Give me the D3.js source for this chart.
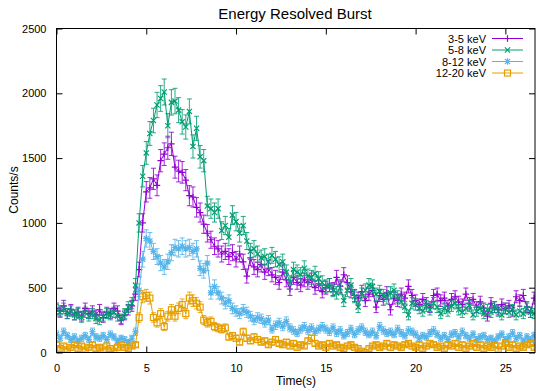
<!DOCTYPE html>
<html><head><meta charset="utf-8">
<script src="https://cdn.jsdelivr.net/npm/d3@7"></script>
<style>body{margin:0;background:#fff}svg{display:block;font-family:"Liberation Sans",Arial,sans-serif}</style>
</head><body><svg id="c" width="536" height="391"></svg>
<script>
const binWidth = 0.2;
const seriesNames = ["3-5 keV","5-8 keV","8-12 keV","12-20 keV"];
const xTicks = [0,5,10,15,20,25];
const yTicks = [0,500,1000,1500,2000,2500];

const band3to5 = [
340,320,360,300,330,290,310,280,340,300,
320,290,330,270,310,300,340,320,250,290,
330,360,450,640,1000,1240,1270,1340,1290,1480,
1530,1580,1610,1430,1400,1390,1330,1210,1200,1120,
1080,990,920,870,820,800,760,780,740,770,
720,760,700,590,730,660,640,680,620,650,
600,580,540,620,560,490,580,540,520,560,
540,560,500,530,470,500,520,490,580,510,
600,540,470,440,420,470,400,450,480,350,
440,410,460,330,420,400,450,420,510,440,
400,370,410,380,350,440,450,400,420,360,
410,430,390,370,450,380,410,350,390,340,
280,380,350,330,370,340,360,320,430,400,
440,350,310,420];
const band5to8 = [
330,310,340,300,320,290,300,270,310,280,
300,260,250,280,300,290,310,280,260,300,
350,380,520,1000,1360,1540,1690,1790,1910,1960,
2010,1750,1930,1940,1870,1780,1740,1860,1590,1730,
1510,1480,1130,1110,1080,1110,940,980,890,1060,
1010,920,980,860,780,800,760,730,740,700,
750,720,680,700,620,540,640,620,600,650,
590,580,610,570,540,510,520,480,460,500,
400,480,520,430,350,450,480,520,510,450,
470,440,420,460,480,430,390,350,290,380,
370,340,320,360,330,380,350,300,340,320,
360,380,330,310,340,360,290,320,340,300,
330,310,350,320,290,340,310,330,290,320,
300,340,310,300];
const band8to12 = [
140,110,160,130,100,120,90,110,130,100,
160,120,110,130,100,140,120,90,110,100,
80,110,160,480,720,880,860,780,740,690,
660,700,770,810,800,820,800,810,780,800,
650,630,690,460,510,460,420,380,400,340,
320,300,330,310,280,250,270,260,230,250,
180,210,230,200,240,190,170,150,180,200,
170,190,160,180,200,180,160,190,150,170,
130,150,180,140,170,190,160,140,160,130,
200,170,150,160,140,180,150,130,170,160,
140,110,130,120,150,170,140,110,130,100,
140,150,120,160,130,110,140,100,120,130,
100,110,90,120,140,100,120,150,110,130,
90,120,100,130];
const band12to20 = [
60,30,50,20,40,60,30,50,20,40,
60,30,40,20,50,30,10,40,60,40,
30,50,60,270,430,440,420,270,230,300,
200,280,330,280,340,370,300,420,400,380,
350,250,230,240,200,190,180,190,120,130,
110,80,160,110,90,120,100,80,90,60,
80,100,70,60,80,50,70,40,60,50,
90,110,70,50,60,40,70,50,60,40,
30,50,60,40,30,10,0,30,50,60,
40,50,70,40,60,50,40,60,70,50,
40,60,30,50,70,60,40,50,30,60,
50,70,40,60,30,50,70,40,60,30,
50,40,60,20,50,70,40,60,30,50,
40,60,70,40];

const colors = ["#9400d3","#009e73","#56b4e9","#e69f00"];
const allBands = [band3to5, band5to8, band8to12, band12to20];

const svg = d3.select("#c");
const L = 56.5, R = 535, T = 28.5, B = 352.5;
const x = d3.scaleLinear().domain([0, 26.65]).range([L, R]);
const y = d3.scaleLinear().domain([0, 2500]).range([B, T]);

svg.append("defs").append("clipPath").attr("id","clip")
  .append("rect").attr("x",L).attr("y",T).attr("width",R-L).attr("height",B-T);

// axes (gnuplot style: ticks inward, mirrored)
const tl = 6;
svg.append("g").attr("transform",`translate(0,${B})`)
  .call(d3.axisBottom(x).tickValues(xTicks).tickSize(-tl).tickPadding(tl+6).tickFormat(d3.format("d")))
  .call(g=>{g.select(".domain").remove();g.selectAll("text").attr("font-size",11).attr("fill","#000").style("font-family","Liberation Sans, Arial, sans-serif");});
svg.append("g").attr("transform",`translate(0,${T})`)
  .call(d3.axisTop(x).tickValues(xTicks).tickSize(-tl).tickFormat(""))
  .call(g=>g.select(".domain").remove());
svg.append("g").attr("transform",`translate(${L},0)`)
  .call(d3.axisLeft(y).tickValues(yTicks).tickSize(-tl).tickPadding(tl+4).tickFormat(d3.format("d")))
  .call(g=>{g.select(".domain").remove();g.selectAll("text").attr("font-size",11).attr("fill","#000").style("font-family","Liberation Sans, Arial, sans-serif");});
svg.append("g").attr("transform",`translate(${R},0)`)
  .call(d3.axisRight(y).tickValues(yTicks).tickSize(-tl).tickFormat(""))
  .call(g=>g.select(".domain").remove());
svg.selectAll(".tick line").attr("stroke","#000");

const plot = svg.append("g").attr("clip-path","url(#clip)");

function marker(g, k, cx, cy, col){
  const s = 3.2;
  if(k===0){
    g.append("path").attr("d",`M${cx-s},${cy}H${cx+s}M${cx},${cy-s}V${cy+s}`).attr("stroke",col).attr("stroke-width",1.2).attr("fill","none");
  } else if(k===1){
    const a=2.6;
    g.append("path").attr("d",`M${cx-a},${cy-a}L${cx+a},${cy+a}M${cx-a},${cy+a}L${cx+a},${cy-a}`).attr("stroke",col).attr("stroke-width",1.2).attr("fill","none");
  } else if(k===2){
    const a=2.6;
    g.append("path").attr("d",`M${cx-s},${cy}H${cx+s}M${cx},${cy-s}V${cy+s}M${cx-a},${cy-a}L${cx+a},${cy+a}M${cx-a},${cy+a}L${cx+a},${cy-a}`).attr("stroke",col).attr("stroke-width",1.2).attr("fill","none");
  } else {
    const a=3;
    g.append("rect").attr("x",cx-a).attr("y",cy-a).attr("width",2*a).attr("height",2*a).attr("stroke",col).attr("stroke-width",1.2).attr("fill","none");
  }
}

allBands.forEach((vals,k)=>{
  const col = colors[k];
  const pts = vals.map((v,i)=>({t:i*binWidth, v:v, e:Math.sqrt(Math.max(v,5)/binWidth)}));
  const g = plot.append("g");
  // error bars
  pts.forEach(p=>{
    const cx = x(p.t), y1 = y(p.v+p.e), y0 = y(Math.max(p.v-p.e,-100));
    g.append("path").attr("d",`M${cx},${y0}V${y1}M${cx-2.5},${y0}H${cx+2.5}M${cx-2.5},${y1}H${cx+2.5}`)
      .attr("stroke",col).attr("stroke-width",1).attr("fill","none").attr("opacity",0.85);
  });
  g.append("path").datum(pts)
    .attr("d", d3.line().x(d=>x(d.t)).y(d=>y(d.v)))
    .attr("stroke",col).attr("stroke-width",1).attr("fill","none");
  pts.forEach(p=>marker(g,k,x(p.t),y(p.v),col));
});

// frame
svg.append("rect").attr("x",L).attr("y",T).attr("width",R-L).attr("height",B-T)
  .attr("fill","none").attr("stroke","#000").attr("stroke-width",1);

// legend
const lg = svg.append("g");
seriesNames.forEach((n,k)=>{
  const ly = 38.5 + k*11.5;
  lg.append("text").attr("x",486).attr("y",ly+4).attr("text-anchor","end").attr("font-size",11).text(n);
  lg.append("line").attr("x1",492).attr("x2",523).attr("y1",ly).attr("y2",ly).attr("stroke",colors[k]).attr("stroke-width",1);
  marker(lg,k,507.5,ly,colors[k]);
});

svg.append("text").attr("x",295).attr("y",19).attr("text-anchor","middle").attr("font-size",15).text("Energy Resolved Burst");
svg.append("text").attr("x",296).attr("y",385).attr("text-anchor","middle").attr("font-size",12).text("Time(s)");
svg.append("text").attr("transform","translate(18,190) rotate(-90)").attr("text-anchor","middle").attr("font-size",12).text("Counts/s");
</script></body></html>
